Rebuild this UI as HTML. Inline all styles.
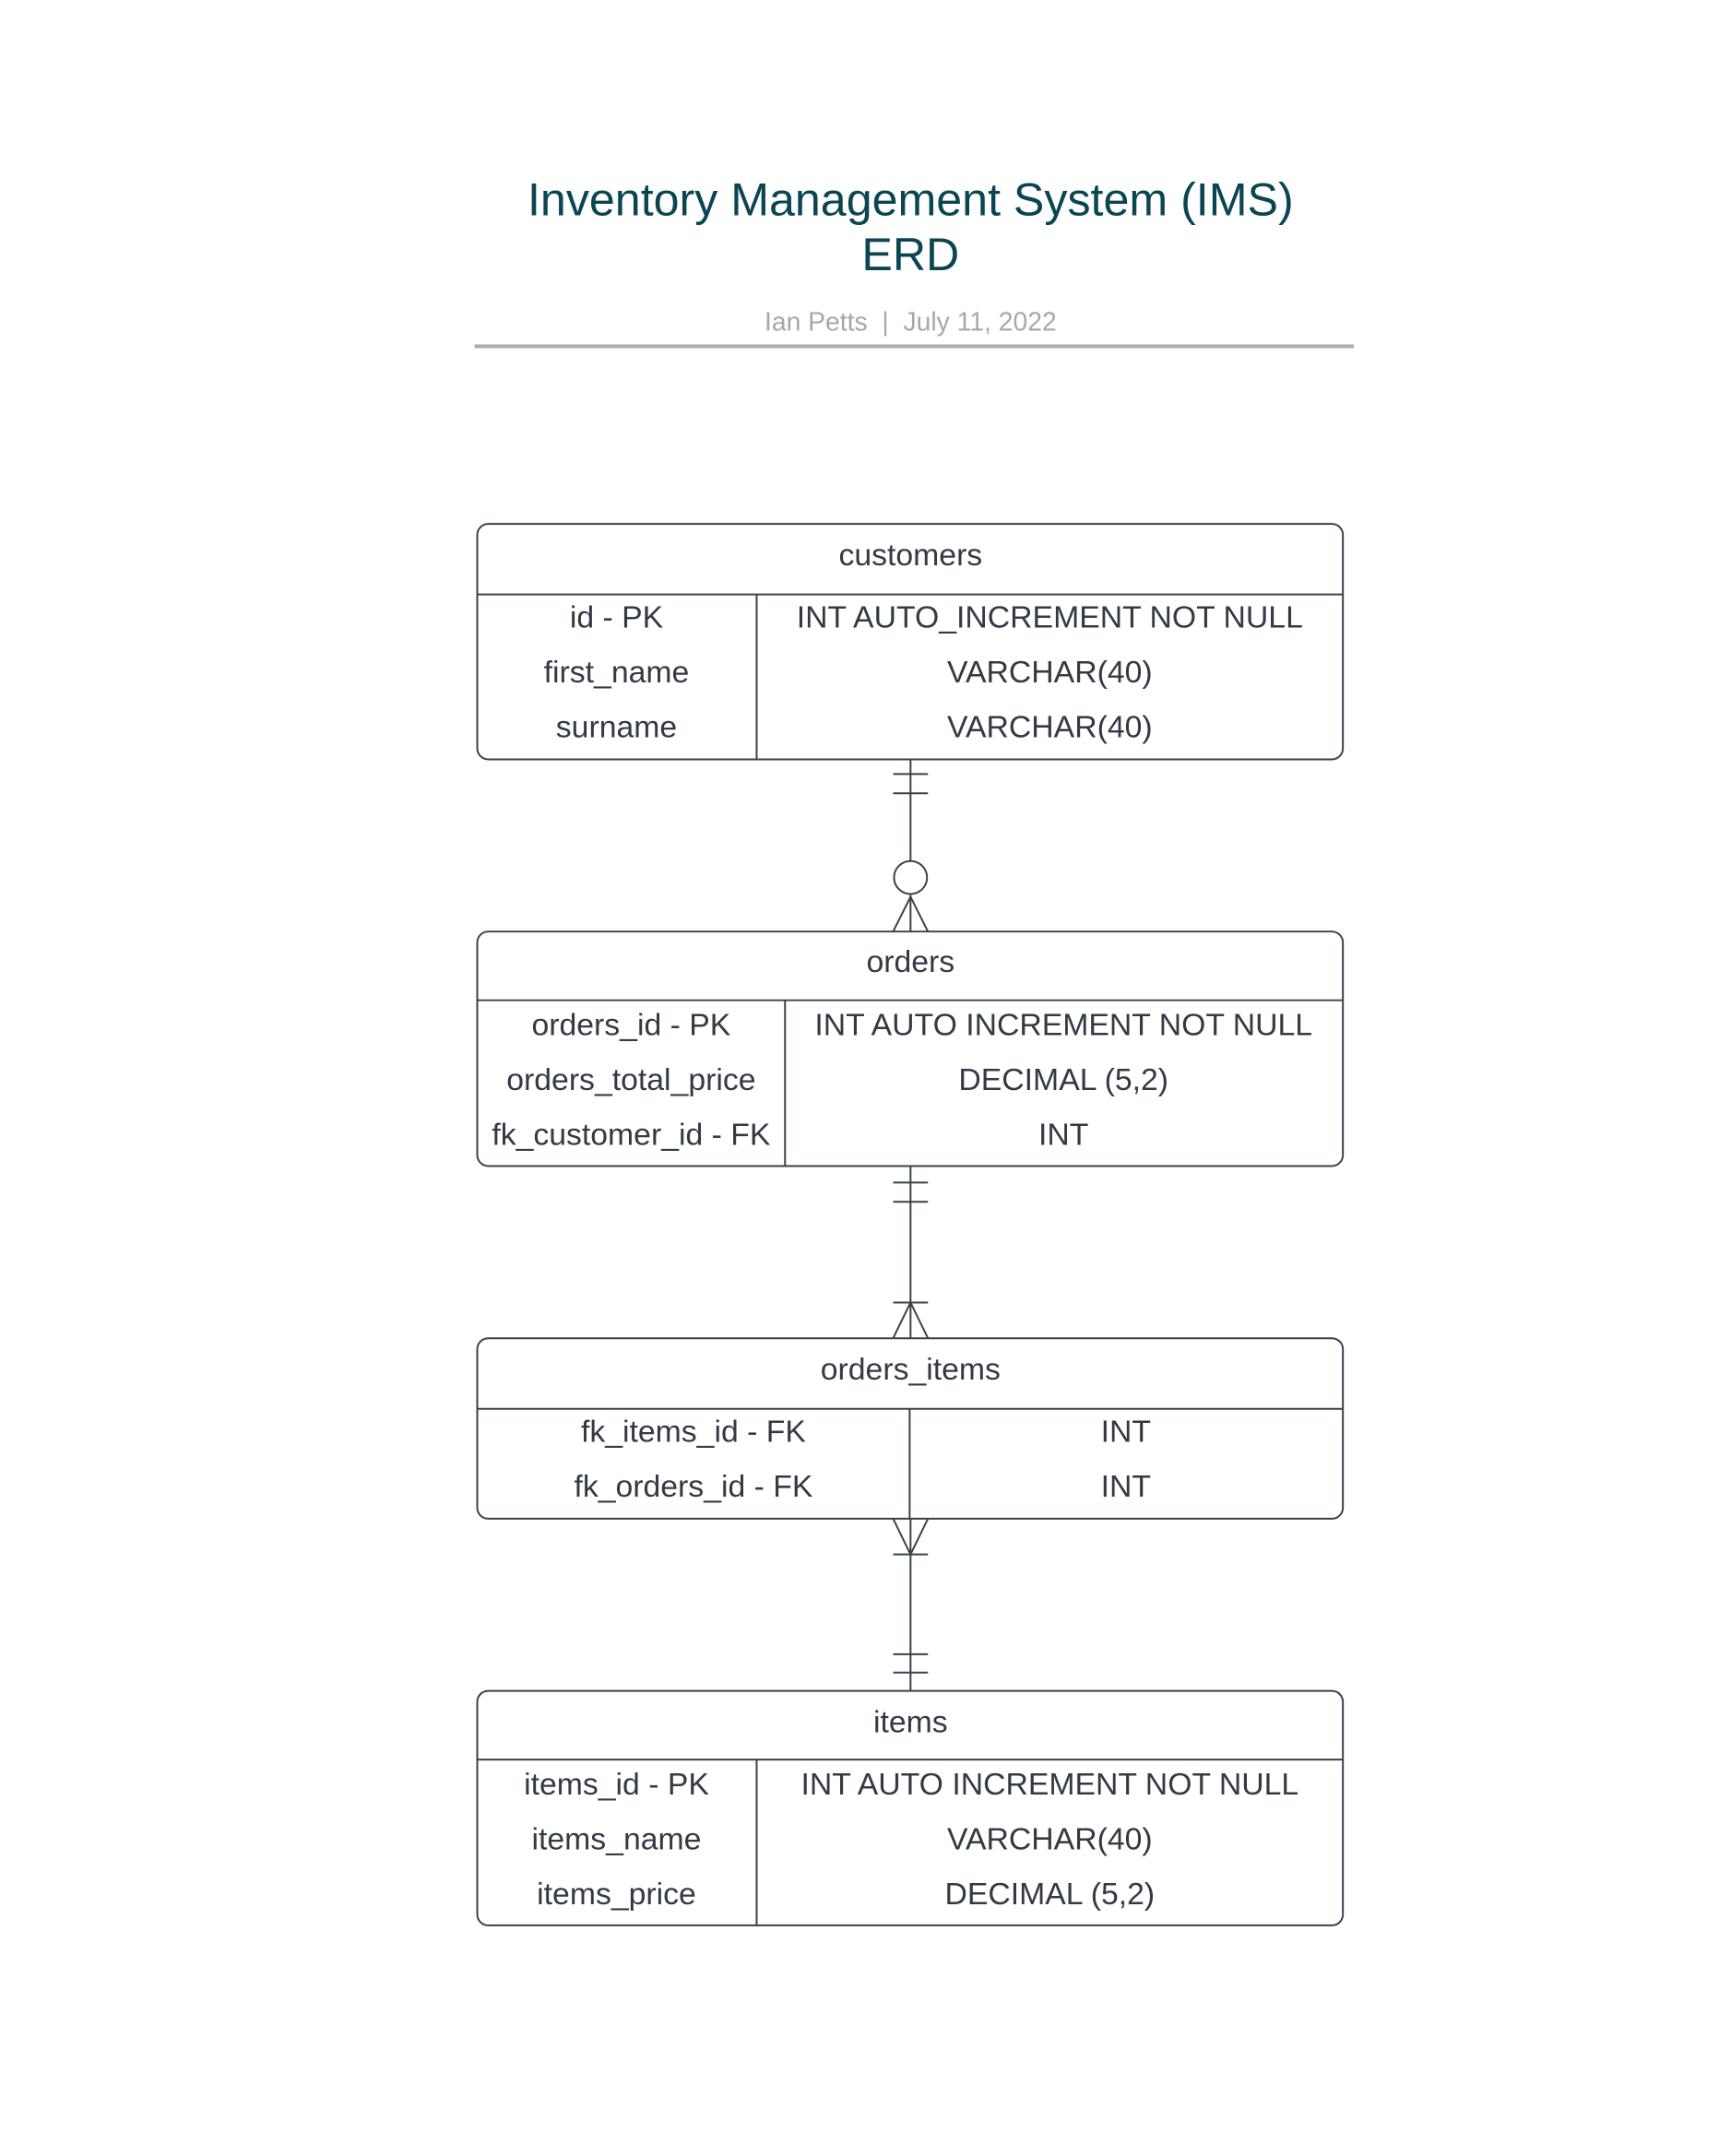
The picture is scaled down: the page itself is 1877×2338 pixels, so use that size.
<!DOCTYPE html>
<html><head><meta charset="utf-8"><style>
html,body{margin:0;padding:0;background:#fff;}
body{width:1877px;height:2338px;overflow:hidden;}
svg{display:block;}
text{font-family:"Liberation Sans",sans-serif;}
</style></head><body>
<svg width="1877" height="2338" viewBox="0 0 1877 2338" xmlns="http://www.w3.org/2000/svg">
<g transform="scale(0.9933)">
<text x="994" y="235" font-size="50.5" fill="#0a4552" text-anchor="middle">Inventory Management System (IMS)</text>
<text x="994" y="295" font-size="50.5" fill="#0a4552" text-anchor="middle">ERD</text>
<text x="994" y="361" font-size="28.5" fill="#a3a8b0" text-anchor="middle" xml:space="preserve">Ian Petts  |  July 11, 2022</text>
<rect x="518" y="376" width="960" height="4" fill="#a7acb3"/>
<g fill="none" stroke="#3a414a" stroke-width="2">
<rect x="521" y="572" width="945" height="257" rx="12"/>
<line x1="521" y1="649" x2="1466" y2="649"/><line x1="826" y1="649" x2="826" y2="829"/>
<rect x="521" y="1017" width="945" height="256" rx="12"/>
<line x1="521" y1="1092" x2="1466" y2="1092"/><line x1="857" y1="1092" x2="857" y2="1273"/>
<rect x="521" y="1461" width="945" height="197" rx="12"/>
<line x1="521" y1="1538" x2="1466" y2="1538"/><line x1="993" y1="1538" x2="993" y2="1658"/>
<rect x="521" y="1846" width="945" height="256" rx="12"/>
<line x1="521" y1="1921" x2="1466" y2="1921"/><line x1="826" y1="1921" x2="826" y2="2102"/>
<line x1="994" y1="829" x2="994" y2="940"/>
<line x1="975" y1="845" x2="1013" y2="845"/><line x1="975" y1="866" x2="1013" y2="866"/>
<circle cx="994" cy="958" r="18"/>
<line x1="994" y1="976" x2="994" y2="1017"/>
<polyline points="975,1017 994,979 1013,1017"/>
<line x1="994" y1="1273" x2="994" y2="1461"/>
<line x1="975" y1="1291" x2="1013" y2="1291"/><line x1="975" y1="1312" x2="1013" y2="1312"/>
<line x1="975" y1="1422" x2="1013" y2="1422"/>
<polyline points="975,1461 994,1422 1013,1461"/>
<line x1="994" y1="1658" x2="994" y2="1846"/>
<polyline points="975,1658 994,1697 1013,1658"/>
<line x1="975" y1="1697" x2="1013" y2="1697"/>
<line x1="975" y1="1806" x2="1013" y2="1806"/><line x1="975" y1="1826" x2="1013" y2="1826"/>
</g>
<g font-size="34" fill="#333a44" text-anchor="middle">
<text x="994" y="617">customers</text>
<text x="673" y="685">id - PK</text><text x="1146" y="685">INT AUTO_INCREMENT NOT NULL</text>
<text x="673" y="745">first_name</text><text x="1146" y="745">VARCHAR(40)</text>
<text x="673" y="805">surname</text><text x="1146" y="805">VARCHAR(40)</text>
<text x="994" y="1061">orders</text>
<text x="689" y="1130">orders_id - PK</text><text x="1161" y="1130">INT AUTO INCREMENT NOT NULL</text>
<text x="689" y="1190">orders_total_price</text><text x="1161" y="1190">DECIMAL (5,2)</text>
<text x="689" y="1250">fk_customer_id - FK</text><text x="1161" y="1250">INT</text>
<text x="994" y="1506">orders_items</text>
<text x="757" y="1574">fk_items_id - FK</text><text x="1229" y="1574">INT</text>
<text x="757" y="1634">fk_orders_id - FK</text><text x="1229" y="1634">INT</text>
<text x="994" y="1891">items</text>
<text x="673" y="1959">items_id - PK</text><text x="1146" y="1959">INT AUTO INCREMENT NOT NULL</text>
<text x="673" y="2019">items_name</text><text x="1146" y="2019">VARCHAR(40)</text>
<text x="673" y="2079">items_price</text><text x="1146" y="2079">DECIMAL (5,2)</text>
</g>
</g>
</svg>
</body></html>
